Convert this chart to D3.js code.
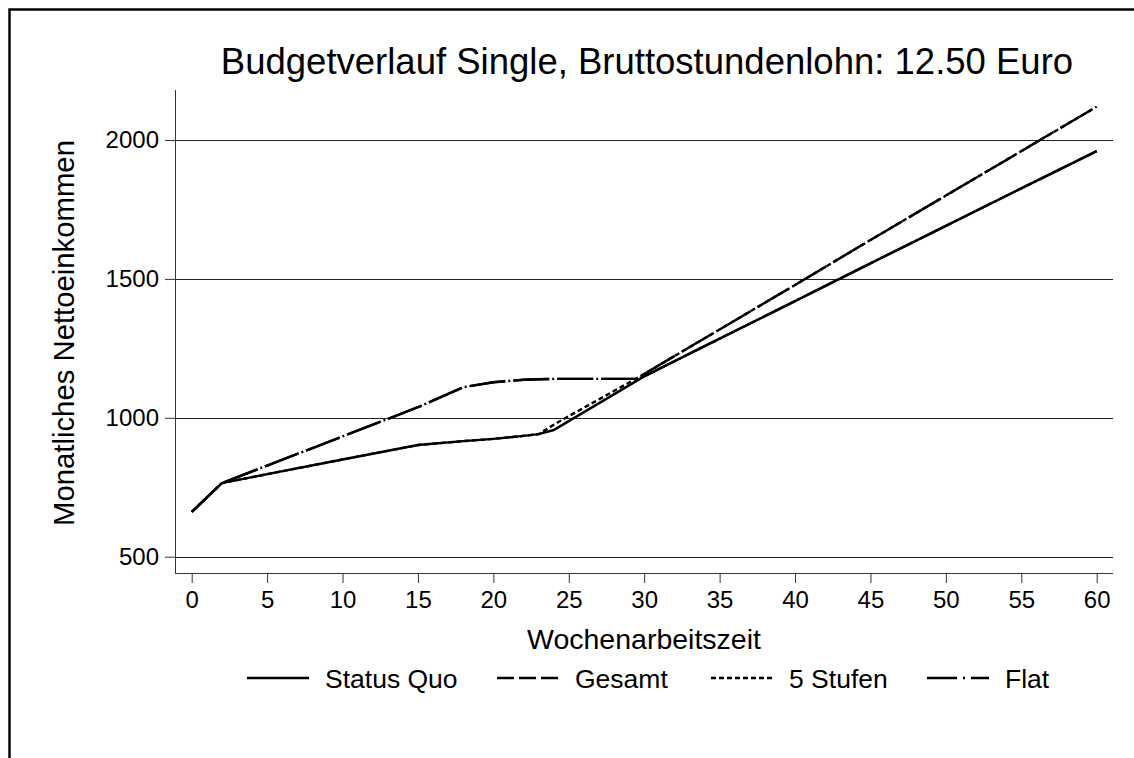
<!DOCTYPE html>
<html>
<head>
<meta charset="utf-8">
<script src="https://cdnjs.cloudflare.com/ajax/libs/d3/7.8.5/d3.min.js"></script>
<style>
  body { margin: 0; background: #fff; overflow: hidden; }
  svg { display: block; }
  text { font-family: "Liberation Sans", Arial, sans-serif; fill: #000; }
</style>
</head>
<body>
<div id="chart"></div>
<script>
// data
var hours = [0, 2, 5, 10, 15, 18, 20, 22, 23, 24, 25, 29.5, 30, 35, 40, 45, 50, 55, 60];
var statusQuo = [661, 765, 797, 850, 902, 916, 924, 935, 941, 956, 988, 1133, 1149, 1285, 1420, 1556, 1691, 1826, 1960];
var gesamt = [661, 765, 828, 933, 1038, 1110, 1128, 1137, 1139, 1140, 1140, 1140, 1158, 1318, 1478, 1640, 1800, 1960, 2120];
var fuenfStufen = [661, 765, 797, 850, 902, 916, 924, 935, 941, 975, 1006, 1142, 1158, 1318, 1478, 1640, 1800, 1960, 2120];
var flat = [661, 765, 828, 933, 1038, 1110, 1128, 1137, 1139, 1140, 1140, 1140, 1149, 1285, 1420, 1556, 1691, 1826, 1960];
var seriesNames = ['Status Quo', 'Gesamt', '5 Stufen', 'Flat'];
var xTicks = [0, 5, 10, 15, 20, 25, 30, 35, 40, 45, 50, 55, 60];
var yTicks = [500, 1000, 1500, 2000];

// 1. svg size
var svgWidth = 1134;
var svgHeight = 758;

// 2. plot area
var plot = { left: 175, right: 1113, top: 90, bottom: 573 };

var svg = d3.select('#chart')
  .append('svg')
  .attr('width', svgWidth)
  .attr('height', svgHeight);

// outer frame: only the top and left edges are in view
svg.append('path')
  .attr('d', `M9.5,${svgHeight} V9.5 H${svgWidth}`)
  .attr('fill', 'none')
  .attr('stroke', '#000')
  .attr('stroke-width', 2.5);

// 3. scales
var xScale = d3.scaleLinear()
  .domain([0, 60])
  .range([191.7, 1096.7]);

var yScale = d3.scaleLinear()
  .domain([500, 2000])
  .range([556.7, 140]);

// 4. gridlines
svg.append('g')
  .selectAll('line')
  .data(yTicks)
  .enter()
  .append('line')
  .attr('x1', plot.left)
  .attr('x2', plot.right)
  .attr('y1', d => Math.round(yScale(d)) + 0.5)
  .attr('y2', d => Math.round(yScale(d)) + 0.5)
  .attr('stroke', '#222')
  .attr('stroke-width', 1);

// 5. axes
var leftAxis = d3.axisLeft(yScale)
  .tickValues(yTicks)
  .tickSize(10)
  .tickPadding(6)
  .tickFormat(d3.format('d'));

var bottomAxis = d3.axisBottom(xScale)
  .tickValues(xTicks)
  .tickSize(10)
  .tickPadding(8);

var yAxis = svg.append('g')
  .attr('transform', `translate(${plot.left}, 0)`)
  .call(leftAxis);

var xAxis = svg.append('g')
  .attr('transform', `translate(0, ${plot.bottom})`)
  .call(bottomAxis);

[xAxis, yAxis].forEach(function(ax) {
  ax.select('.domain').remove();
  ax.selectAll('line').attr('stroke', '#333');
  ax.selectAll('text')
    .style('font-family', '"Liberation Sans", Arial, sans-serif')
    .style('font-size', '24px')
    .attr('fill', '#000');
});

// axis lines
svg.append('line')
  .attr('x1', plot.left + 0.5).attr('x2', plot.left + 0.5)
  .attr('y1', plot.top).attr('y2', plot.bottom)
  .attr('stroke', '#333');
svg.append('line')
  .attr('x1', plot.left).attr('x2', plot.right)
  .attr('y1', plot.bottom + 0.5).attr('y2', plot.bottom + 0.5)
  .attr('stroke', '#333');

// 6. lines
// Gesamt and Flat share the same period so where they overlap the dash-dot shows through
var dashes = ['none', '36,8', '5,3', '36,3,2,3'];
var legendDashes = ['none', '17,5', '5,3', '30,6,2,6'];
var allSeries = [statusQuo, gesamt, fuenfStufen, flat];

var line = d3.line()
  .x((d, i) => xScale(hours[i]))
  .y(d => yScale(d));

var drawOrder = [0, 2, 1, 3];
drawOrder.forEach(function(k) {
  svg.append('path')
    .datum(allSeries[k])
    .attr('d', line)
    .attr('fill', 'none')
    .attr('stroke', '#000')
    .attr('stroke-width', 2.4)
    .attr('stroke-dasharray', dashes[k]);
});

// 7. titles
svg.append('text')
  .attr('x', 647)
  .attr('y', 74)
  .attr('text-anchor', 'middle')
  .style('font-size', '36.5px')
  .text('Budgetverlauf Single, Bruttostundenlohn: 12.50 Euro');

svg.append('text')
  .attr('x', 644)
  .attr('y', 649)
  .attr('text-anchor', 'middle')
  .style('font-size', '28.5px')
  .text('Wochenarbeitszeit');

svg.append('text')
  .attr('transform', 'translate(74, 333) rotate(-90)')
  .attr('text-anchor', 'middle')
  .style('font-size', '29.3px')
  .text('Monatliches Nettoeinkommen');

// 8. legend
var legendX = [247, 497, 711, 927];
var legend = svg.append('g');
seriesNames.forEach(function(name, i) {
  legend.append('line')
    .attr('x1', legendX[i])
    .attr('x2', legendX[i] + 62)
    .attr('y1', 678)
    .attr('y2', 678)
    .attr('stroke', '#000')
    .attr('stroke-width', 2.4)
    .attr('stroke-dasharray', legendDashes[i]);
  legend.append('text')
    .attr('x', legendX[i] + 78)
    .attr('y', 688)
    .style('font-size', '26.5px')
    .text(name);
});
</script>
</body>
</html>
